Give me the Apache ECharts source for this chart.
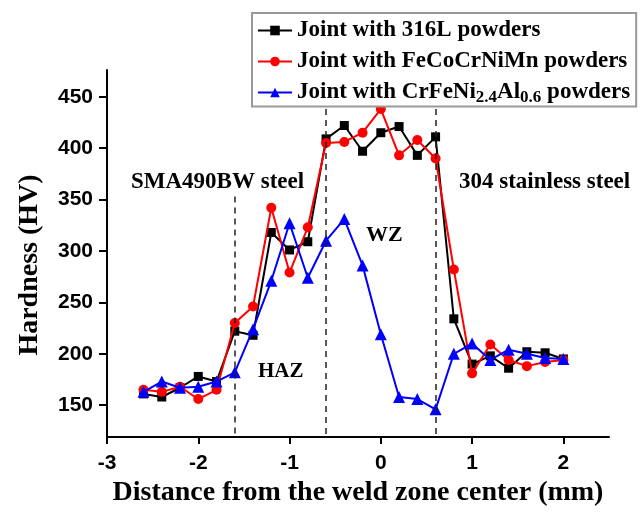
<!DOCTYPE html>
<html>
<head>
<meta charset="utf-8">
<script src="https://cdn.jsdelivr.net/npm/echarts@6/dist/echarts.min.js"></script>
<style>
  html, body { margin: 0; padding: 0; background: #fff; }
  #chart { width: 640px; height: 512px; }
</style>
</head>
<body>
<div id="chart"></div>
<script>
// 测点位置 (mm)
var distance = [-2.6, -2.4, -2.2, -2.0, -1.8, -1.6, -1.4, -1.2, -1.0, -0.8, -0.6, -0.4,
  -0.2, 0, 0.2, 0.4, 0.6, 0.8, 1.0, 1.2, 1.4, 1.6, 1.8, 2.0]
var hv316L = [161, 158, 167, 178, 173, 222, 218, 318, 301, 309, 409, 422,
  397, 415, 421, 393, 411, 234, 190, 198, 186, 202, 201, 195]
var hvFeCoCrNiMn = [165, 163, 168, 156, 165, 230, 246, 342, 279, 323, 405, 406,
  415, 438, 393, 408, 390, 282, 181, 209, 194, 188, 192, 194]
var hvCrFeNiAl = [163, 173, 167, 168, 173, 182, 224, 271, 327, 274, 310, 331,
  286, 219, 158, 156, 146, 200, 210, 194, 204, 200, 196, 195]
var seriesNames = ['Joint with 316L powders', 'Joint with FeCoCrNiMn powders', 'Joint with CrFeNi2.4Al0.6 powders']
var xTicks = [-3, -2, -1, 0, 1, 2]
var yTicks = [150, 200, 250, 300, 350, 400, 450]
// 区域分界线 (HAZ / WZ)
var zoneBounds = [-1.6, -0.6, 0.6]
var zoneTops = [353, 438, 438]

var serif = '"Liberation Serif", "Times New Roman", serif'
var sans = '"Liberation Sans", Arial, sans-serif'

function pairs(ys) {
  return distance.map(function (x, i) { return [x, ys[i]] })
}

var myChart = echarts.init(document.getElementById('chart'))

var option = {
  animation: false,
  backgroundColor: '#fff',
  grid: { left: 107, right: 31, top: 70, bottom: 70 },
  legend: {
    orient: 'vertical',
    left: 252,
    top: 13,
    padding: [6, 6, 0, 5],
    itemGap: 8,
    itemWidth: 34,
    itemHeight: 12,
    borderColor: '#999',
    borderWidth: 2,
    borderRadius: 0,
    backgroundColor: '#fff',
    data: seriesNames,
    formatter: function (name) {
      if (name === seriesNames[2]) {
        return 'Joint with CrFeNi{sub|2.4}Al{sub|0.6} powders'
      }
      return name
    },
    textStyle: {
      fontFamily: serif,
      fontWeight: 'bold',
      fontSize: 23,
      color: '#000',
      rich: {
        sub: {
          fontFamily: serif,
          fontWeight: 'bold',
          fontSize: 17,
          padding: [11, 0, 0, 0]
        }
      }
    }
  },
  xAxis: {
    type: 'value',
    min: -3,
    max: 2.5,
    name: 'Distance from the weld zone center (mm)',
    nameLocation: 'middle',
    nameGap: 40,
    nameTextStyle: { fontFamily: serif, fontWeight: 'bold', fontSize: 28, color: '#000' },
    splitLine: { show: false },
    axisLine: { onZero: false, lineStyle: { color: '#000', width: 2 } },
    axisTick: { customValues: xTicks, length: 7, lineStyle: { width: 2 } },
    axisLabel: {
      customValues: xTicks,
      margin: 16,
      fontFamily: sans,
      fontWeight: 'bold',
      fontSize: 21,
      color: '#000'
    }
  },
  yAxis: {
    type: 'value',
    min: 119,
    max: 476,
    splitLine: { show: false },
    axisLine: { show: true, onZero: false, lineStyle: { color: '#000', width: 2 } },
    axisTick: { show: true, customValues: yTicks, length: 8, lineStyle: { width: 2 } },
    axisLabel: {
      customValues: yTicks,
      margin: 14,
      fontFamily: sans,
      fontWeight: 'bold',
      fontSize: 21,
      color: '#000'
    }
  },
  graphic: [
    {
      type: 'text', x: 30, y: 265, rotation: Math.PI / 2,
      style: { text: 'Hardness (HV)', font: 'bold 28px ' + serif, fill: '#000', align: 'center', verticalAlign: 'middle' }
    },
    { type: 'text', left: 131, top: 171, style: { text: 'SMA490BW steel', font: 'bold 23px ' + serif, fill: '#000' } },
    { type: 'text', left: 459, top: 171, style: { text: '304 stainless steel', font: 'bold 23px ' + serif, fill: '#000' } },
    { type: 'text', left: 366, top: 224, style: { text: 'WZ', font: 'bold 22px ' + serif, fill: '#000' } },
    { type: 'text', left: 258, top: 361, style: { text: 'HAZ', font: 'bold 21px ' + serif, fill: '#000' } }
  ],
  series: [
    {
      name: seriesNames[0],
      type: 'line',
      data: pairs(hv316L),
      symbol: 'rect',
      symbolSize: 9,
      color: '#000',
      lineStyle: { width: 2, color: '#000' },
      itemStyle: { color: '#000' },
      z: 2,
      markLine: {
        silent: true,
        symbol: 'none',
        label: { show: false },
        lineStyle: { color: '#222', width: 1.5, type: [6, 5] },
        data: zoneBounds.map(function (x, i) {
          return [{ coord: [x, zoneTops[i]] }, { coord: [x, 119] }]
        })
      }
    },
    {
      name: seriesNames[1],
      type: 'line',
      data: pairs(hvFeCoCrNiMn),
      symbol: 'circle',
      symbolSize: 10,
      color: '#f00',
      lineStyle: { width: 2, color: '#f00' },
      itemStyle: { color: '#f00' },
      z: 3
    },
    {
      name: seriesNames[2],
      type: 'line',
      data: pairs(hvCrFeNiAl),
      symbol: 'triangle',
      symbolSize: 12,
      color: '#00f',
      lineStyle: { width: 2, color: '#00f' },
      itemStyle: { color: '#00f' },
      z: 4
    }
  ]
}

myChart.setOption(option)
</script>
</body>
</html>
